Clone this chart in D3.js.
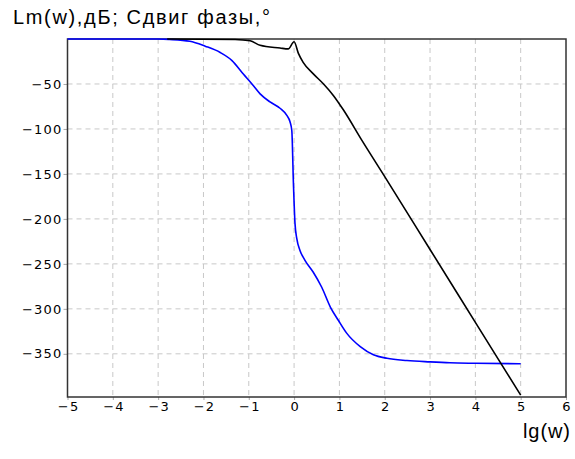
<!DOCTYPE html>
<html>
<head>
<meta charset="utf-8">
<script src="https://d3js.org/d3.v7.min.js"></script>
<style>
    body { margin: 0; background: #fff; }
    text { font-family: "Liberation Sans", Arial, sans-serif; }
</style>
</head>
<body>
<div id="chart"></div>
<script>
// lg(w) and values
var phaseLg = [-5, -3, -2.75, -2.3, -1.96, -1.63, -1.37, -1.12, -0.93, -0.75, -0.53,
               -0.31, -0.16, -0.09, -0.05, -0.015, 0.02, 0.06, 0.13, 0.24, 0.42,
               0.61, 0.8, 0.98, 1.16, 1.46, 1.75, 2.05, 2.49, 3.0, 3.44, 4, 5];
var phaseVal = [0, 0, -0.5, -2.5, -8, -15, -24, -39, -50, -61, -70,
                -77, -85, -92, -102, -160, -205, -222, -235, -246, -259,
                -276, -298, -313, -327, -342, -351, -355, -357.5, -359, -360, -360.5, -361];

var magLg = [-2.8, -1.3, -0.97, -0.75, -0.31, -0.13, 0.0, 0.095, 0.2, 0.43, 0.65,
             0.87, 1.09, 1.5, 2, 3, 4, 5];
var magVal = [0, -0.5, -2, -7, -10, -11, -3, -16, -26, -39, -50,
              -63, -79, -113, -153, -234, -315, -396];

var xTicks = [-5, -4, -3, -2, -1, 0, 1, 2, 3, 4, 5, 6];
var yTicks = [-50, -100, -150, -200, -250, -300, -350];

var titleText = "Lm(w),дБ; Сдвиг фазы,°";
var xTitle = "lg(w)";

var margin = { top: 39, right: 9, bottom: 62, left: 67.5 };
var width = 575 - margin.left - margin.right;
var height = 459 - margin.top - margin.bottom;

var root = d3.select("#chart")
    .append("svg")
    .attr("width", 575)
    .attr("height", 459);

var svg = root.append("g")
    .attr("transform", "translate(" + margin.left + "," + margin.top + ")");

var x = d3.scaleLinear().domain([-5, 6]).range([0, width]);
var y = d3.scaleLinear().domain([-398, 0]).range([height, 0]);

// dashed grid
svg.selectAll(".vgrid")
    .data(xTicks.slice(1, -1))
    .enter()
    .append("line")
    .attr("x1", d => x(d)).attr("x2", d => x(d))
    .attr("y1", 0).attr("y2", height)
    .attr("stroke", "#c8c8c8")
    .attr("stroke-dasharray", "5,4");

svg.selectAll(".hgrid")
    .data(yTicks)
    .enter()
    .append("line")
    .attr("x1", 0).attr("x2", width)
    .attr("y1", d => y(d)).attr("y2", d => y(d))
    .attr("stroke", "#c8c8c8")
    .attr("stroke-dasharray", "5,4");

// axes
var xAxis = svg.append("g")
    .attr("transform", "translate(0," + height + ")")
    .call(d3.axisBottom(x).tickValues(xTicks).tickSize(3).tickSizeOuter(0).tickPadding(2));

var yAxis = svg.append("g")
    .call(d3.axisLeft(y).tickValues(yTicks).tickSize(4).tickSizeOuter(0).tickPadding(1));

[xAxis, yAxis].forEach(function (a) {
    a.select(".domain").remove();
    a.selectAll(".tick line").attr("stroke", "#aaa");
    a.selectAll(".tick text")
        .attr("fill", "#000")
        .style("font-family", "'DejaVu Sans', sans-serif")
        .style("font-size", "13px")
        .style("letter-spacing", "1.2px");
});
// letter-spacing leaves a trailing gap; shift x labels back to centre
xAxis.selectAll(".tick text").attr("dx", "0.6px");

// frame
svg.append("rect")
    .attr("width", width)
    .attr("height", height)
    .attr("fill", "none")
    .attr("stroke", "#333")
    .attr("stroke-width", 1.5);

var line = d3.line()
    .x(d => x(d[0]))
    .y(d => y(d[1]))
    .curve(d3.curveMonotoneX);

svg.append("path")
    .datum(d3.zip(phaseLg, phaseVal))
    .attr("d", line)
    .attr("fill", "none")
    .attr("stroke", "#0000ff")
    .attr("stroke-width", 1.6);

svg.append("path")
    .datum(d3.zip(magLg, magVal))
    .attr("d", line)
    .attr("fill", "none")
    .attr("stroke", "#000")
    .attr("stroke-width", 1.6);

root.append("text")
    .attr("x", 13)
    .attr("y", 24)
    .attr("textLength", 257)
    .attr("lengthAdjust", "spacing")
    .style("font-size", "20px")
    .text(titleText);

root.append("text")
    .attr("x", 523)
    .attr("y", 438)
    .attr("textLength", 47)
    .attr("lengthAdjust", "spacing")
    .style("font-size", "20px")
    .text(xTitle);
</script>
</body>
</html>
